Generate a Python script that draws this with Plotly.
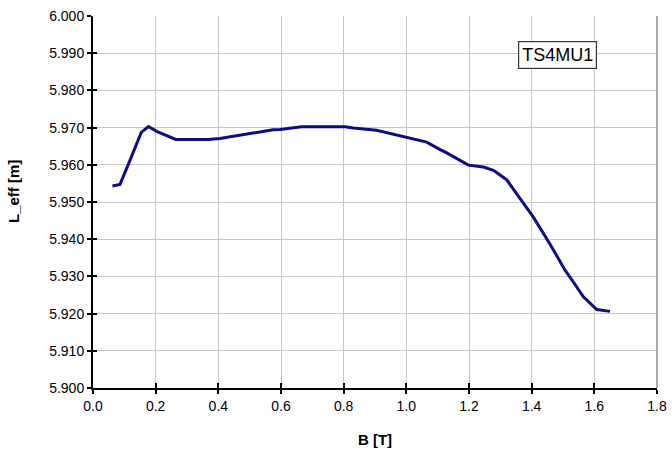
import plotly.graph_objects as go

B = [0.062, 0.086, 0.118, 0.154, 0.177, 0.203, 0.264, 0.342, 0.368, 0.405,
     0.480, 0.512, 0.575, 0.597, 0.623, 0.666, 0.804, 0.831, 0.905, 1.001,
     1.065, 1.108, 1.129, 1.198, 1.246, 1.278, 1.320, 1.363, 1.405, 1.464,
     1.507, 1.533, 1.565, 1.608, 1.650]
L_eff = [5.9543, 5.9547, 5.9612, 5.9687, 5.9703, 5.9690, 5.9668, 5.9667, 5.9668, 5.9671,
         5.9682, 5.9685, 5.9694, 5.9695, 5.9697, 5.9702, 5.9702, 5.9699, 5.9693, 5.9675,
         5.9661, 5.9641, 5.9632, 5.9599, 5.9594, 5.9585, 5.9560, 5.9509, 5.9460, 5.9379,
         5.9316, 5.9285, 5.9245, 5.9211, 5.9206]

x_ticks = [0.0, 0.2, 0.4, 0.6, 0.8, 1.0, 1.2, 1.4, 1.6, 1.8]
y_ticks = [5.900, 5.910, 5.920, 5.930, 5.940, 5.950, 5.960, 5.970, 5.980, 5.990, 6.000]
label = "TS4MU1"

FONT = "Arial, Liberation Sans, sans-serif"

fig = go.Figure()
fig.add_trace(go.Scatter(x=B, y=L_eff, mode="lines",
                         line=dict(color="#0c0c86", width=3),
                         showlegend=False, hoverinfo="skip"))
# invisible trace for the overlay axes (inner half of crossing ticks)
fig.add_trace(go.Scatter(x=[B[0]], y=[L_eff[0]], mode="markers", opacity=0,
                         xaxis="x2", yaxis="y2", showlegend=False, hoverinfo="skip"))

fig.update_layout(
    width=672, height=451,
    margin=dict(l=93, r=15, t=16, b=63, autoexpand=False),
    paper_bgcolor="white", plot_bgcolor="white",
    font=dict(family=FONT, size=14, color="#000"),
    xaxis=dict(range=[0, 1.8], tickvals=x_ticks, automargin=False,
               ticktext=[f"{v:.1f}" for v in x_ticks],
               showgrid=True, gridcolor="#c8c8c8", gridwidth=1,
               showline=True, linecolor="#000", linewidth=2,
               ticks="outside", ticklen=4, tickcolor="#000", tickwidth=1.5,
               zeroline=False,
               title=dict(text="<b>B [T]</b>", font=dict(size=15), standoff=22)),
    yaxis=dict(range=[5.9, 6.0], tickvals=y_ticks, automargin=False,
               ticktext=[f"{v:.3f}" for v in y_ticks],
               showgrid=True, gridcolor="#c8c8c8", gridwidth=1,
               showline=True, linecolor="#000", linewidth=2,
               ticks="outside", ticklen=4, tickcolor="#000", tickwidth=1.5,
               zeroline=False),
    xaxis2=dict(range=[0, 1.8], tickvals=x_ticks, overlaying="x", side="bottom",
                showticklabels=False, showgrid=False, showline=False, zeroline=False,
                ticks="inside", ticklen=5, tickcolor="#000", tickwidth=1.5),
    yaxis2=dict(range=[5.9, 6.0], tickvals=y_ticks, overlaying="y", side="left",
                showticklabels=False, showgrid=False, showline=False, zeroline=False,
                ticks="inside", ticklen=4, tickcolor="#000", tickwidth=1.5),
    shapes=[dict(type="line", xref="paper", yref="paper", x0=1, x1=1, y0=0, y1=1,
                 line=dict(color="#909090", width=1.5))],
    annotations=[
        dict(text=label, xref="paper", yref="paper", x=0.824, y=0.894,
             xanchor="center", yanchor="middle",
             showarrow=False, font=dict(size=18, color="#000"),
             bgcolor="white", bordercolor="#333", borderwidth=1.2, borderpad=3),
        dict(text="<b>L_eff [m]</b>", xref="paper", yref="paper", x=-0.140, y=0.527,
             xanchor="center", yanchor="middle", textangle=-90,
             showarrow=False, font=dict(size=15, color="#000")),
    ],
)

fig.write_html("out.html")
